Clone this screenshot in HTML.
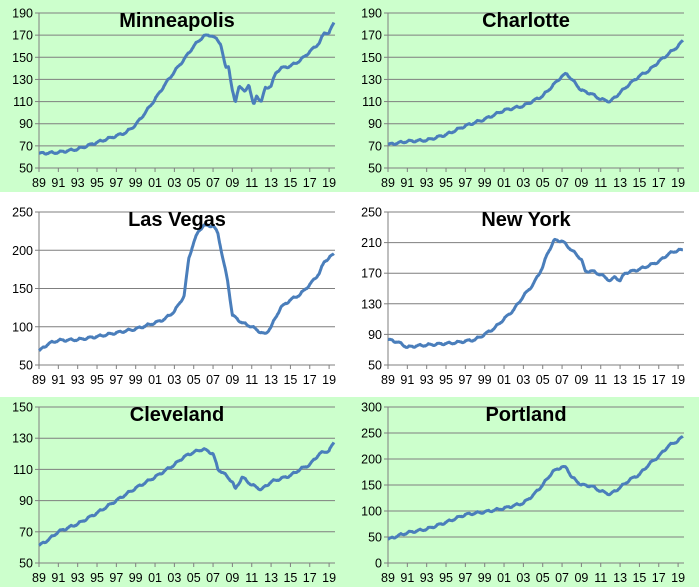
<!DOCTYPE html>
<html><head><meta charset="utf-8"><style>
html,body{margin:0;padding:0;background:#fff}
svg{display:block}
</style></head><body>
<svg id="s" width="699" height="587" xmlns="http://www.w3.org/2000/svg" font-family="Liberation Sans, sans-serif"></svg>
<script>
const S=document.getElementById('s');
let h='';
h+='<rect x="0" y="0" width="699" height="192" fill="#ccffcc"/>';
h+='<rect x="0" y="397" width="699" height="190" fill="#ccffcc"/>';
const panels=[
 {t:'Minneapolis',L:39,T:13,B:168,min:50,max:190,step:20,k:[[0,63],[2,64],[4,67],[6,73],[8,79],[9,82],[10,89],[11,100],[12,112],[13,125],[14,137],[15,148],[16,160],[17,169],[17.8,170],[18.5,165],[18.8,162],[19.3,140],[19.6,142],[20,120],[20.3,108],[20.7,125],[21.3,118],[21.7,126],[22.2,106],[22.5,115],[23,110],[23.4,122],[24,124],[24.5,136],[25,140],[26,142],[27,147],[28,155],[29,163],[29.5,172],[30,172],[30.5,181]]},
 {t:'Charlotte',L:388,T:13,B:168,min:50,max:190,step:20,k:[[0,71],[2,74],[4,75],[6,80],[8,88],[10,94],[12,102],[14,106],[16,115],[17,124],[18,133],[18.5,135],[19,130],[20,120],[21,117],[22,112],[23,110],[24,118],[25,126],[26,133],[27,138],[28,146],[29,153],[30,160],[30.5,165]]},
 {t:'Las Vegas',L:39,T:212,B:365,min:50,max:250,step:50,k:[[0,68],[1,78],[2,82],[4,83],[6,87],[8,92],[10,97],[12,105],[13,110],[14,120],[15,140],[15.5,190],[16,210],[16.5,225],[17,232],[18,232],[18.5,222],[19,190],[19.5,160],[20,115],[21,105],[22,100],[23,92],[23.4,90],[24,100],[25,125],[26,135],[27,142],[28,155],[29,170],[29.5,185],[30.5,195]]},
 {t:'New York',L:388,T:212,B:365,min:50,max:250,step:40,k:[[0,83],[1,80],[2,73],[3,75],[5,77],[7,79],[9,83],[10,90],[11,98],[12,110],[13,122],[14,140],[15,155],[16,178],[16.5,196],[17.2,213],[18,212],[19,200],[20,188],[20.4,172],[21,173],[22,168],[23,160],[23.5,165],[24,160],[24.5,170],[26,175],[27,180],[28,185],[29,195],[30,200],[30.5,200]]},
 {t:'Cleveland',L:39,T:407,B:563,min:50,max:150,step:20,k:[[0,61],[1,65],[2,70],[4,75],[6,82],[8,90],[10,98],[12,105],[14,113],[15,118],[16,121],[17,123],[18,120],[18.5,110],[19,108],[20,102],[20.3,97],[21,105],[22,100],[23,97],[24,102],[25,104],[26,106],[27,110],[28,113],[29,120],[30,122],[30.5,127]]},
 {t:'Portland',L:388,T:407,B:563,min:0,max:300,step:50,k:[[0,45],[1,52],[2,58],[4,65],[6,78],[8,93],[10,98],[12,105],[14,115],[15,130],[16,150],[17,175],[18,185],[18.5,182],[19,165],[20,150],[21,148],[22,138],[23,132],[24,145],[25,160],[26,170],[27,190],[28,205],[29,225],[30,235],[30.5,243]]}
];
const W=296,PX=9.67;
const labs=['89','91','93','95','97','99','01','03','05','07','09','11','13','15','17','19'];
function interp(k,t){for(let i=0;i<k.length-1;i++){if(t<=k[i+1][0]){const a=k[i],b=k[i+1];return a[1]+(b[1]-a[1])*(t-a[0])/(b[0]-a[0]);}}return k[k.length-1][1];}
panels.forEach(p=>{
 const R=p.L+W;
 const yv=v=>p.B-(v-p.min)/(p.max-p.min)*(p.B-p.T);
 for(let v=p.min;v<=p.max;v+=p.step){const y=yv(v);
  h+=`<line x1="${p.L}" x2="${R}" y1="${y}" y2="${y}" stroke="#7f7f7f" stroke-width="1"/>`;
  h+=`<line x1="${p.L-4}" x2="${p.L}" y1="${y}" y2="${y}" stroke="#7f7f7f"/>`;
  h+=`<text x="${p.L-6}" y="${y+4.5}" font-size="12.5" text-anchor="end" fill="#000">${v}</text>`;}
 h+=`<line x1="${p.L}" x2="${p.L}" y1="${p.T}" y2="${p.B}" stroke="#7f7f7f"/>`;
 labs.forEach((l,i)=>{const x=p.L+i*2*PX;h+=`<line x1="${x}" x2="${x}" y1="${p.B}" y2="${p.B+4}" stroke="#7f7f7f"/>`;h+=`<text x="${x}" y="${p.B+19}" font-size="12.5" text-anchor="middle">${l}</text>`;});
 let d='';const rng=p.max-p.min;
 for(let t=0;t<=30.5;t+=1/12){let v=interp(p.k,t)+Math.sin(t*2*Math.PI)*rng*0.006+((t*12|0)%5==0?rng*0.003:0);
  d+=(d?'L':'M')+(p.L+t*PX).toFixed(1)+' '+yv(v).toFixed(1);}
 h+=`<path d="${d}" fill="none" stroke="#4a7ebb" stroke-width="3" stroke-linejoin="round"/>`;
 h+=`<text x="${p.L+138}" y="${p.T+14}" font-size="20" font-weight="bold" text-anchor="middle">${p.t}</text>`;
});
S.innerHTML=h;
</script>
</body></html>
